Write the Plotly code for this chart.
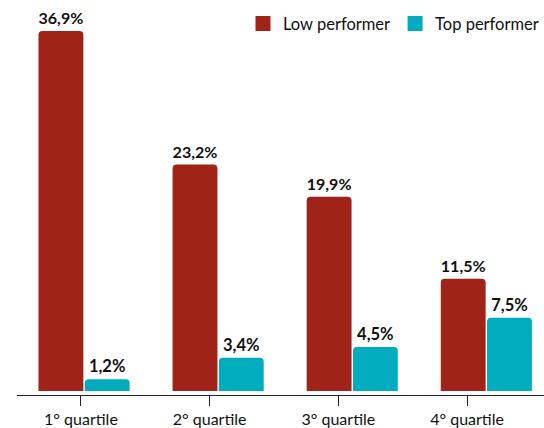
import plotly.graph_objects as go

categories = ["1° quartile", "2° quartile", "3° quartile", "4° quartile"]
low_values = [36.9, 23.2, 19.9, 11.5]
top_values = [1.2, 3.4, 4.5, 7.5]
series_names = ["Low performer", "Top performer"]
colors = ["#9f2317", "#00acbd"]

def fmt(v):
    return "<b>" + f"{v:.1f}".replace(".", ",") + "%</b>"

fig = go.Figure()
for name, vals, col in zip(series_names, [low_values, top_values], colors):
    fig.add_trace(go.Bar(
        x=categories, y=vals, name=name, marker=dict(color=col, line=dict(width=0)),
        text=[fmt(v) for v in vals], textposition="outside",
        textfont=dict(family="Lato", size=16.5, color="#111111"),
        cliponaxis=False, showlegend=False,
    ))
# legend entries with larger square swatches (also register the tick axis categories)
for name, col in zip(series_names, colors):
    fig.add_trace(go.Scatter(
        x=categories, y=[None] * len(categories), mode="markers", name=name,
        marker=dict(symbol="square", size=15, color=col),
        showlegend=True, hoverinfo="skip", xaxis="x2",
    ))

fig.update_layout(
    width=544, height=428,
    margin=dict(l=17, r=0, t=10, b=33, autoexpand=False),
    paper_bgcolor="white", plot_bgcolor="white",
    barmode="group", bargap=0.31, bargroupgap=0.03, barcornerradius=4,
    font=dict(family="Lato", size=16, color="#111111"),
    showlegend=True,
    legend=dict(orientation="h", x=1.0, xanchor="right", y=1.01, yanchor="top",
                font=dict(family="Lato", size=16.5, color="#111111"),
                itemwidth=30, traceorder="normal", bgcolor="rgba(0,0,0,0)"),
    xaxis=dict(type="category", range=[-0.5, 3.43], visible=False, showgrid=False),
    xaxis2=dict(type="category", overlaying="x", side="bottom", anchor="y",
                categoryorder="array", categoryarray=categories,
                range=[-0.497, 3.598], showline=True, linecolor="#222222",
                linewidth=1, ticks="outside", ticklen=10, tickcolor="#222222",
                showgrid=False, tickfont=dict(family="Lato", size=16, color="#111111")),
    yaxis=dict(range=[-0.41, 39.04], visible=False, showgrid=False, zeroline=False),
)

fig.write_html("out.html")
